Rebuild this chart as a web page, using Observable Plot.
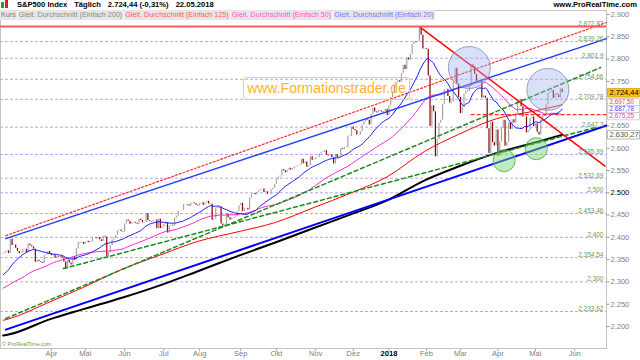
<!DOCTYPE html>
<html><head><meta charset="utf-8">
<script src="https://cdn.jsdelivr.net/npm/d3@7"></script>
<script src="https://cdn.jsdelivr.net/npm/@observablehq/plot@0.6"></script>
<style>
body{margin:0;background:#fff;font-family:"Liberation Sans",Arial,sans-serif}
#wrap{position:relative;width:640px;height:360px;overflow:hidden;background:#fff}
#hdr{position:absolute;left:0;top:0;height:10px;font-weight:bold;font-size:7.6px;line-height:10px;color:#000;white-space:nowrap}
#hdr span{margin-right:7px}
#icon{display:inline-block;position:relative;width:10px;height:9px;vertical-align:top;margin-right:2px}
#icon i{position:absolute;bottom:1px;width:3px}
#legend{position:absolute;left:0;top:10px;height:10px;font-size:7.2px;line-height:10px;white-space:nowrap}
#legend span{background:#e6e6e6;padding:0 1px;margin-right:1px;display:inline-block}
#prt{position:absolute;right:3px;top:0;font-weight:bold;font-size:7.6px;line-height:10px;color:#000}
#wm{position:absolute;left:243px;top:77px;width:165px;height:21px;border:1px solid #ffc878;border-radius:3px;color:#ffb22c;font-size:14px;line-height:21px;text-align:center}
#copy{position:absolute;left:2px;top:341px;font-size:5.5px;color:#6a9a50}
</style></head><body><div id="wrap"></div>
<script>
// ---- daily closes (trading days) ----
// before the visible window (used only for the 20/50 day averages)
const dec16 = [2191.08,2191.95,2204.71,2212.23,2241.35,2246.19,2259.53,2256.96,2271.72,2253.28,2262.03,2258.07,2262.53,2270.76,2265.18,2260.96,2263.79,2268.88,2249.92,2249.26,2238.83];
const jan17 = [2257.83,2270.75,2269.00,2276.98,2268.90,2268.90,2275.32,2270.44,2274.64,2267.89,2271.89,2263.69,2271.31,2265.20,2280.07,2298.37,2296.68,2294.69,2280.90,2278.87];
const feb17a = [2279.55,2280.85,2297.42,2292.56,2293.08,2294.67,2307.87,2316.10,2328.25,2337.58,2349.25,2347.22,2351.16,2365.38,2362.82];
// visible window (from 23.02.2017)
const feb17 = [2363.81,2367.34,2369.75,2363.64];
const mar17 = [2395.96,2381.92,2383.12,2375.31,2368.39,2362.98,2364.87,2372.60,2373.47,2365.45,2385.26,2381.38,2378.25,2373.47,2344.02,2348.45,2345.96,2343.98,2341.59,2358.57,2361.13,2368.06,2362.72];
const apr17 = [2358.84,2360.16,2352.95,2357.49,2355.54,2357.16,2353.78,2344.93,2328.95,2349.01,2342.19,2338.17,2355.84,2348.69,2374.15,2388.61,2387.45,2388.77,2384.20];
const may17 = [2388.33,2391.17,2388.13,2389.52,2399.29,2399.38,2396.92,2399.63,2394.44,2390.90,2402.32,2400.67,2357.03,2365.72,2381.73,2394.02,2398.42,2404.39,2415.07,2415.82,2412.91,2411.80];
const jun17 = [2430.06,2439.07,2436.10,2429.33,2433.14,2433.79,2431.77,2429.39,2440.35,2437.92,2432.46,2433.15,2453.46,2437.03,2435.61,2434.50,2438.30,2439.07,2419.38,2440.69,2419.70,2423.41];
const jul17 = [2429.01,2432.54,2409.75,2425.18,2427.43,2425.53,2443.25,2447.83,2459.27,2459.14,2460.61,2473.83,2473.45,2472.54,2469.91,2477.13,2477.83,2475.42,2472.10,2470.30];
const aug17 = [2476.35,2477.57,2472.16,2476.83,2480.91,2474.92,2474.02,2438.21,2441.32,2465.84,2464.61,2468.11,2430.01,2425.55,2428.37,2452.51,2444.04,2438.97,2443.05,2444.24,2446.30,2457.59,2471.65];
const sep17 = [2476.55,2457.85,2465.54,2465.10,2461.43,2488.11,2496.48,2498.37,2495.62,2500.23,2503.87,2506.65,2508.24,2500.60,2502.22,2496.66,2496.84,2507.04,2510.06,2519.36];
const oct17 = [2529.12,2534.58,2537.74,2552.07,2549.33,2544.73,2550.64,2555.24,2550.93,2553.17,2557.64,2559.36,2561.26,2562.10,2575.21,2564.98,2569.13,2557.15,2560.40,2581.07,2572.83,2575.26];
const nov17 = [2579.36,2579.85,2587.84,2591.13,2590.64,2594.38,2584.62,2582.30,2584.84,2578.87,2564.62,2585.64,2578.85,2582.14,2599.03,2597.08,2602.42,2601.42,2627.04,2626.07,2647.58];
const dec17 = [2642.22,2639.44,2629.57,2629.27,2636.98,2651.50,2659.99,2664.11,2662.85,2652.01,2675.81,2690.16,2681.47,2679.25,2684.57,2683.34,2680.50,2682.62,2687.54,2673.61];
const jan18 = [2695.81,2713.06,2723.99,2743.15,2747.71,2751.29,2748.23,2767.56,2786.24,2776.42,2802.56,2798.03,2810.30,2832.97,2839.13,2837.54,2839.25,2872.87,2853.53,2822.43,2823.81];
const feb18 = [2821.98,2762.13,2648.94,2695.14,2681.66,2581.00,2619.55,2656.00,2662.94,2698.63,2731.20,2732.22,2716.26,2701.33,2703.96,2747.30,2779.60,2744.28,2713.83];
const mar18 = [2677.67,2691.25,2720.94,2728.12,2726.80,2738.97,2786.57,2783.02,2765.31,2749.48,2747.33,2752.01,2712.92,2716.94,2711.93,2643.69,2588.26,2658.55,2612.62,2605.00,2640.87];
const apr18 = [2581.88,2614.45,2644.69,2662.84,2604.47,2613.16,2656.87,2642.19,2663.99,2656.30,2677.84,2706.39,2708.64,2693.13,2670.14,2670.29,2634.56,2639.40,2666.94,2669.91,2648.05];
const may18 = [2654.80,2635.67,2629.73,2663.42,2672.63,2671.92,2697.79,2723.07,2727.72,2730.13,2711.45,2722.46,2720.13,2712.97,2733.01,2724.44];

const preCloses = [...dec16, ...jan17, ...feb17a];
const monthCloses = [feb17, mar17, apr17, may17, jun17, jul17, aug17, sep17, oct17, nov17, dec17, jan18, feb18, mar18, apr18, may18];
// trading days per month on the axis (Feb 2017 from the 23rd; May 2018 whole month)
const monthTradingDays = [4,23,19,22,22,20,23,20,22,21,20,21,19,21,21,22];
const tickLabels = ["Apr","Mai","Jun","Jul","Aug","Sep","Okt","Nov","Dez","2018","Feb","Mar","Apr","Mai","Jun"];

// long averages: first day, then each month's last trading day
const sma200Read = [2180,2182,2216,2239,2265,2294,2324,2359,2388,2421,2452,2483,2528,2559,2589,2612,2630.27];
const sma125Read = [2214,2217,2255,2288,2329,2362,2391,2413,2433,2467,2500,2536,2593,2631,2666,2683,2697.50];

// horizontal levels
const levels = [2839.26,2801.9,2754.66,2709.78,2647.3,2585.89,2532.69,2500,2453.46,2400,2354.54,2300,2233.62];
const topLevel = 2872.87;
const yTicks = [2200,2250,2300,2350,2400,2450,2500,2550,2600,2650,2700,2750,2800,2850,2900];
const hiddenTickLabels = [2700]; // covered by the value boxes in the reference

// drawn lines (trading-day index, price)
const downTrend = [{i:233,p:2872.87},{i:337,p:2560}];
const channelTop = [{i:1.5,p:2397},{i:337.8,p:2846}];
const channelTopDotted = [{i:1.5,p:2404},{i:337.8,p:2882}];
const supportLine = [{i:1.5,p:2193},{i:337.8,p:2651}];
const greenSteep = [{i:1.5,p:2218},{i:334.5,p:2781}];
const greenLow = [{i:33.7,p:2330},{i:331.7,p:2646.5}];
const redDashedLevel = [{i:262,p:2675.5},{i:337.8,p:2675.5}];
const blueCircles = [{i:261,p:2781},{i:305,p:2732}];
const greenCircles = [{i:280.5,p:2572},{i:298.5,p:2599}];

// right-hand value boxes (shift = small vertical nudge so stacked boxes stay readable)
const boxes = [
  {v:2697.50, color:"#ff3b3b", fill:"#ffffff", stroke:"#c8c8c8", shift:-2.8, size:6.3, h:7},
  {v:2687.78, color:"#4a4aff", fill:"#ffffff", stroke:"#c8c8c8", shift:0, size:6.3, h:7},
  {v:2675.25, color:"#ff2ec4", fill:"#ffffff", stroke:"#c8c8c8", shift:1.6, size:6.3, h:7},
  {v:2724.44, color:"#000000", fill:"#f4c21c", stroke:"#d6a200", shift:0, size:7.5, h:8.6},
  {v:2630.27, color:"#555555", fill:"#ffffff", stroke:"#a8a8a8", shift:0, size:7.5, h:8.6}
];

// ---- derived tables ----
const de = d3.formatLocale({decimal:",", thousands:".", grouping:[3], currency:["","€"], minus:"-"});
const fmt = de.format(",");
const fmt2 = de.format(",.2f");

const windowCloses = monthCloses.flat();
const all = preCloses.concat(windowCloses);
const off = preCloses.length;
const candles = windowCloses.map((c, i) => ({i, o: all[off + i - 1], c}));
function sma(n) {
  return windowCloses.map((_, j) => ({i: j, v: d3.mean(all.slice(off + j - n + 1, off + j + 1))}));
}
const sma20 = sma(20), sma50 = sma(50);
const cum = d3.cumsum(monthTradingDays);
const monthEnds = monthCloses.map((m, k) => (k ? cum[k - 1] : 0) + m.length - 1);
const readIdx = [0, ...monthEnds];
const sma200 = sma200Read.map((v, k) => ({i: readIdx[k], v}));
const sma125 = sma125Read.map((v, k) => ({i: readIdx[k], v}));
const monthTicks = tickLabels.map((label, k) => ({i: cum[k + 1], label}));

const boxSym = h => ({draw(ctx) { ctx.rect(-16, -h / 2, 32, h); }});
const hTick = {draw(ctx) { ctx.moveTo(0, 0); ctx.lineTo(3, 0); }};
const vTick = {draw(ctx) { ctx.moveTo(0, 0); ctx.lineTo(0, 3); }};

const chart = Plot.plot({
  width: 640, height: 360,
  marginTop: 10, marginBottom: 12, marginLeft: 0, marginRight: 34,
  x: {domain: [-1.5, 337.8], axis: null},
  y: {domain: [2200, 2900], range: [326, 14], axis: null},
  style: {fontFamily: "Liberation Sans, Arial, sans-serif", fontSize: "7.5px", background: "white", overflow: "visible"},
  marks: [
    Plot.frame({stroke: "#c4c4c4"}),
    Plot.ruleY(levels, {stroke: "#b6a8ee", strokeDasharray: "3,2", strokeWidth: 1}),
    Plot.ruleX(candles, {x: "i", y1: "o", y2: "c", stroke: d => d.c >= d.o ? "#a4a4a4" : "#8b0000", strokeWidth: 1.2}),
    Plot.line(sma200, {x: "i", y: "v", stroke: "#000", strokeWidth: 2, curve: "monotone-x", clip: true}),
    Plot.line(sma125, {x: "i", y: "v", stroke: "#ff0000", strokeWidth: 1, curve: "monotone-x", clip: true}),
    Plot.line(sma50, {x: "i", y: "v", stroke: "#ff22cc", strokeWidth: 1, clip: true}),
    Plot.line(sma20, {x: "i", y: "v", stroke: "#1a1aff", strokeWidth: 1, clip: true}),
    Plot.line(supportLine, {x: "i", y: "p", stroke: "#0000ff", strokeWidth: 2}),
    Plot.line(channelTop, {x: "i", y: "p", stroke: "#1f3cff", strokeWidth: 1.4}),
    Plot.line(channelTopDotted, {x: "i", y: "p", stroke: "#ff2a2a", strokeWidth: 1.2, strokeDasharray: "2,2"}),
    Plot.line(greenSteep, {x: "i", y: "p", stroke: "#1f8a1f", strokeWidth: 1.5, strokeDasharray: "4,3"}),
    Plot.line(greenLow, {x: "i", y: "p", stroke: "#1f8a1f", strokeWidth: 1.5, strokeDasharray: "4,3"}),
    Plot.line(redDashedLevel, {x: "i", y: "p", stroke: "#ff2a2a", strokeWidth: 1.2, strokeDasharray: "3,3"}),
    Plot.line(downTrend, {x: "i", y: "p", stroke: "#ff0000", strokeWidth: 1.5}),
    Plot.ruleY([topLevel], {stroke: "#ff5a5a", strokeWidth: 2}),
    Plot.dot(blueCircles, {x: "i", y: "p", r: 21, fill: "#9fb1ea", fillOpacity: 0.4, stroke: "#7f8bb0", strokeWidth: 0.8}),
    Plot.dot(greenCircles, {x: "i", y: "p", r: 11, fill: "#6fd866", fillOpacity: 0.45, stroke: "#5a9a5a", strokeWidth: 0.8}),
    Plot.text([topLevel, ...levels], {y: d => d, text: d => fmt(d), frameAnchor: "right", dx: -3, dy: -0.5, textAnchor: "end", lineAnchor: "bottom", fill: "#6f9a5c", fontSize: 6.5}),
    Plot.dot(yTicks, {y: d => d, frameAnchor: "right", symbol: hTick, stroke: "#999", strokeWidth: 1}),
    Plot.text(yTicks.filter(d => !hiddenTickLabels.includes(d)), {y: d => d, text: d => fmt(d), frameAnchor: "right", dx: 4, textAnchor: "start", fill: d => d === 2500 ? "#000" : "#808080", fontSize: 7.5}),
    ...boxes.map(b => Plot.dot([b], {y: "v", frameAnchor: "right", dx: 17, dy: b.shift, symbol: boxSym(b.h), fill: b.fill, stroke: b.stroke, strokeWidth: 0.8})),
    ...boxes.map(b => Plot.text([b], {y: "v", text: d => fmt2(d.v), frameAnchor: "right", dx: 3, dy: b.shift, textAnchor: "start", fill: b.color, fontSize: b.size})),
    Plot.dot(monthTicks, {x: "i", frameAnchor: "bottom", symbol: vTick, stroke: "#aaa", strokeWidth: 1}),
    Plot.text(monthTicks.filter(d => d.label !== "2018"), {x: "i", text: "label", frameAnchor: "bottom", dy: 7, fill: "#808080", fontSize: 7.5}),
    Plot.text(monthTicks.filter(d => d.label === "2018"), {x: "i", text: "label", frameAnchor: "bottom", dy: 7, fill: "#000", fontSize: 7.5, fontWeight: "bold"})
  ]
});

const wrap = document.getElementById("wrap");
wrap.appendChild(chart);
const last = windowCloses[windowCloses.length - 1], prev = windowCloses[windowCloses.length - 2];
const pct = de.format(",.2f")((last / prev - 1) * 100);
wrap.insertAdjacentHTML("beforeend",
  `<div id="hdr"><span id="icon"><i style="left:1px;height:6px;background:#2aa02a"></i><i style="left:5px;height:8px;background:#e02020"></i></span><span>S&amp;P500 Index</span><span>Täglich</span><span>${fmt2(last)} (${pct}%)</span><span>22.05.2018</span></div>
   <div id="legend"><span style="color:#7a7a7a">Kurs</span><span style="color:#8a8a8a">Gleit. Durchschnitt (Einfach 200)</span><span style="color:#ff5a5a">Gleit. Durchschnitt (Einfach 125)</span><span style="color:#ff55d4">Gleit. Durchschnitt (Einfach 50)</span><span style="color:#7373ff">Gleit. Durchschnitt (Einfach 20)</span></div>
   <div id="prt">www.ProRealTime.com</div>
   <div id="wm">www.Formationstrader.de</div>
   <div id="copy">© ProRealTime.com</div>`);
</script></body></html>
